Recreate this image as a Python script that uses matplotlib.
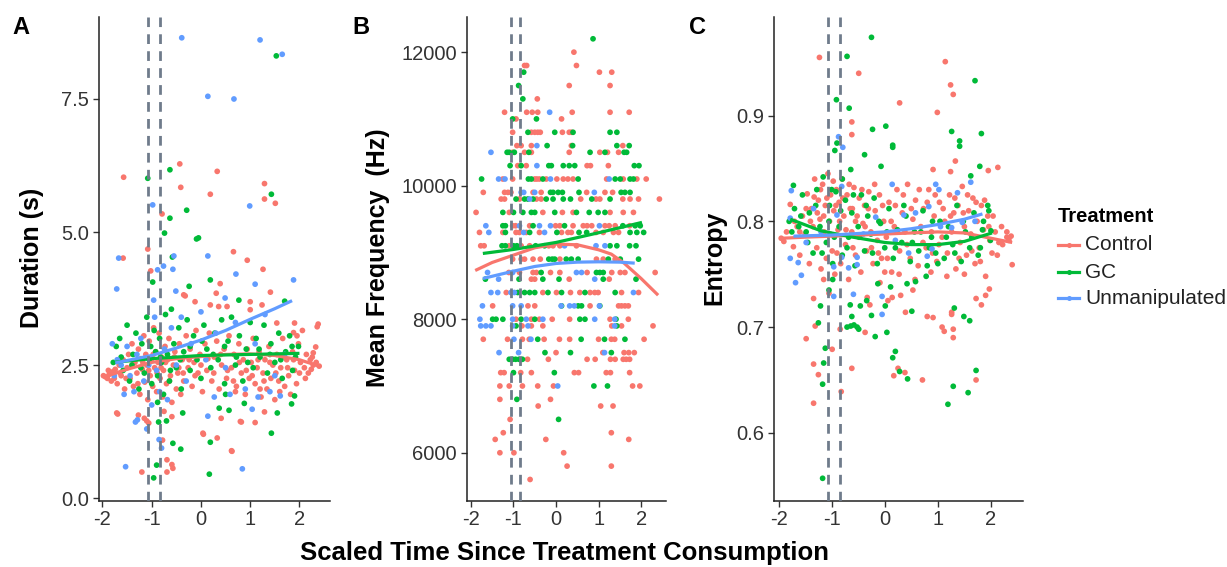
import matplotlib
matplotlib.use("Agg")
import matplotlib.pyplot as plt
from matplotlib.lines import Line2D

plt.rcParams['font.family'] = ['Liberation Sans', 'DejaVu Sans']

groups = ["Control", "GC", "Unmanipulated"]
colors = ["#F8766D", "#00BA38", "#619CFF"]
treat_lines = [-1.07, -0.84]

# ---------------- Panel A : Duration (s) ----------------
A_ctrl = [
    (-0.43,6.28),(-1.57,6.03),(0.33,6.14),(-0.41,5.84),(0.19,5.71),(1.29,5.91),(1.29,5.62),(1.51,5.54),
    (-0.79,5.34),(-1.08,4.68),(0.66,4.63),(-1.58,4.51),(0.94,4.47),(-1.02,4.27),(1.26,4.30),(0.39,4.03),
    (-0.35,3.82),(-0.32,3.80),(0.31,3.85),(1.41,3.87),(-0.12,3.69),(0.19,3.63),(0.36,3.60),(0.53,3.60),
    (1.00,3.69),(1.00,3.54),(1.24,3.63),(2.38,3.27),(2.36,3.22),(2.33,2.84),(2.28,2.73),(2.24,2.42),
    (1.54,3.29),(1.90,3.29),(1.88,3.11),(1.95,3.05),
    (-1.69,1.58),(-1.71,1.60),(-1.27,1.56),(-1.20,0.49),(-0.69,0.49),(-0.57,0.56),(-0.59,0.63),(-0.69,0.72),
    (-0.78,1.09),(0.63,0.88),(0.62,0.89),(0.04,1.22),(0.05,1.20),(0.33,1.13),(0.82,1.43),(0.80,1.44),
    (1.10,1.42),(1.29,1.62),(0.41,1.50),(-1.06,1.41),(-0.75,1.63),(-0.59,1.53),(-1.15,1.50),(-1.10,1.45),
    (-1.98,2.30),(-1.94,2.28),(-1.90,2.25),(-1.86,2.33),(-1.82,2.20),(-1.78,2.38),(-1.74,2.42),(-1.70,2.15),
    (-1.66,2.50),(-1.62,2.30),(-1.58,2.60),(-1.55,2.05),(-1.50,2.45),(-1.47,2.70),(-1.44,2.25),(-1.40,2.90),
    (-1.37,2.10),(-1.34,2.55),(-1.30,2.35),(-1.27,2.80),(-1.24,1.95),(-1.22,2.62),(-1.19,2.42),(-1.16,3.05),
    (-1.14,2.18),(-1.12,2.70),(-1.10,2.50),(-1.08,1.85),(-1.05,2.95),(-1.03,2.30),(-1.01,2.60),(-0.98,2.10),
    (-0.96,3.20),(-0.94,2.45),(-0.92,2.75),(-0.90,2.00),(-0.87,2.55),(-0.85,3.10),(-0.83,2.25),(-0.80,2.65),
    (-0.78,1.90),(-0.76,2.40),(-0.73,2.85),(-0.70,2.15),(-0.68,2.60),(-0.65,3.00),(-0.62,2.30),(-0.59,1.80),
    (-0.56,2.50),(-0.53,2.75),(-0.50,2.05),(-0.47,2.35),(-0.44,2.90),(-0.41,1.95),(-0.38,2.60),(-0.35,2.20),
    (-0.30,3.05),(-0.26,2.45),(-0.22,2.80),(-0.18,2.10),(-0.14,2.55),(-0.10,3.15),(-0.06,2.35),(-0.02,2.70),
    (0.03,2.00),(0.08,2.90),(0.12,2.40),(0.17,3.10),(0.22,2.20),(0.27,2.65),(0.32,2.95),(0.37,2.05),
    (0.42,2.50),(0.47,2.80),(0.52,2.25),(0.57,3.05),(0.62,2.45),(0.67,2.70),(0.72,2.10),(0.77,2.90),
    (0.82,2.35),(0.86,2.60),(0.90,1.95),(0.94,2.80),(0.98,2.25),(1.02,2.55),(1.06,3.00),(1.10,2.15),
    (1.14,2.45),(1.18,2.75),(1.22,1.90),(1.26,2.35),(1.30,2.60),(1.34,2.05),(1.38,2.85),(1.42,2.25),
    (1.46,2.50),(1.50,1.85),(1.54,2.70),(1.58,2.20),(1.62,2.45),(1.66,3.00),(1.70,2.10),(1.74,2.60),
    (1.78,2.30),(1.82,1.95),(1.86,2.75),(1.90,2.40),(1.94,2.15),(1.98,2.90),(2.02,2.55),(2.06,3.15),
    (2.10,2.45),(2.14,2.70),(2.18,2.35),(2.22,2.60),(2.28,2.50),(2.34,2.55),(2.40,2.48),
    (-1.88,2.40),(-1.76,2.25),(-1.64,2.35),(-1.52,2.25),(-1.40,2.50),(-1.28,2.15),(-1.18,2.55),(-1.06,2.40),
    (-0.97,2.70),(-0.89,2.35),(-0.81,2.45),(-0.72,2.55),(-0.64,2.20),(-0.54,2.65),(-0.45,2.45),(-0.36,2.35),
    (-0.24,2.60),(-0.12,2.30),(0.00,2.50),(0.14,2.62),(0.26,2.35),(0.40,2.70),(0.54,2.40),(0.66,2.20),
    (0.78,2.55),(0.92,2.40),(1.04,2.30),(1.16,2.60),(1.28,2.20),(1.40,2.55),(1.52,2.35),(1.64,2.65),
    (1.76,2.45),(1.88,2.60),(2.00,2.35),(2.12,2.25),(2.26,2.65),(1.20,2.05),(1.60,2.00),(0.70,2.00),
]
A_gc = [
    (-1.08,6.01),(-0.63,6.17),(1.43,5.71),(-0.29,5.41),(-0.63,5.26),(-0.74,4.98),(-0.09,4.87),(-0.05,4.89),
    (-0.58,4.53),(1.53,8.31),(-0.24,3.98),(0.19,4.10),(-0.98,4.06),(0.77,3.72),(1.70,3.70),
    (-0.96,0.38),(-0.90,0.62),(-0.57,1.03),(-0.41,0.92),(0.17,0.45),(0.19,1.05),(1.43,1.22),(1.55,1.60),
    (0.57,1.65),(0.37,1.69),(-0.37,1.60),(-0.86,1.43),(0.88,1.78),(1.84,1.77),(1.90,1.92),(-0.88,1.80),
    (-0.70,1.45),(0.50,1.95),
    (-1.78,2.55),(-1.72,2.85),(-1.65,3.00),(-1.58,2.40),(-1.50,3.25),(-1.45,2.20),(-1.38,2.70),(-1.32,3.10),
    (-1.26,2.05),(-1.20,2.90),(-1.15,2.35),(-1.10,3.40),(-1.05,2.60),(-1.00,2.15),(-0.95,3.15),(-0.92,2.75),
    (-0.88,2.30),(-0.84,3.00),(-0.80,2.55),(-0.76,1.95),(-0.72,3.45),(-0.68,2.70),(-0.64,2.20),(-0.60,3.55),
    (-0.55,2.90),(-0.50,2.45),(-0.45,3.20),(-0.40,2.05),(-0.35,2.75),(-0.28,3.35),(-0.22,2.40),(-0.15,3.05),
    (-0.08,2.60),(0.00,2.25),(0.06,3.25),(0.12,2.80),(0.20,2.45),(0.28,3.10),(0.35,2.60),(0.42,3.35),
    (0.48,2.15),(0.55,2.95),(0.62,3.40),(0.70,2.50),(0.78,3.05),(0.85,2.20),(0.92,2.80),(1.00,3.30),
    (1.06,2.45),(1.12,3.00),(1.20,2.65),(1.28,3.25),(1.35,2.35),(1.42,2.90),(1.50,2.55),(1.58,3.10),
    (1.65,2.25),(1.72,2.75),(1.80,3.05),(1.86,2.40),(1.92,2.65),(1.98,2.85),
    (-1.62,2.65),(-1.40,2.50),(-1.22,2.45),(-1.02,2.85),(-0.82,2.65),(-0.62,2.40),(-0.42,2.60),(-0.22,2.85),
    (0.02,2.95),(0.25,2.70),(0.48,2.85),(0.72,2.65),(0.95,2.55),(1.18,2.80),(1.40,2.70),(1.62,2.60),(1.85,2.85),
]
A_un = [
    (-0.39,8.65),(1.20,8.61),(1.65,8.34),(0.14,7.55),(0.67,7.50),(-0.98,5.51),(0.99,5.49),(-1.67,4.51),
    (0.14,4.55),(-0.55,4.55),(-0.88,4.29),(-0.76,4.36),(-0.57,4.30),(-1.71,3.93),(0.71,4.21),(1.10,4.02),
    (1.88,4.10),(-0.51,3.89),(0.49,3.76),(-0.96,3.72),
    (-1.33,1.43),(-1.53,0.59),(-0.80,0.94),(0.84,0.55),(0.14,1.54),(0.27,1.90),(0.59,1.95),(1.04,1.67),
    (-1.29,1.47),(1.61,1.92),(1.16,1.90),(-1.10,1.30),(-0.85,1.10),
    (-1.80,2.90),(-1.76,2.30),(-1.70,2.60),(-1.62,2.50),(-1.56,1.95),(-1.50,2.85),(-1.44,2.30),(-1.36,2.00),
    (-1.30,2.70),(-1.22,3.00),(-1.16,2.20),(-1.06,2.50),(-1.00,1.75),(-0.94,3.40),(-0.90,2.40),(-0.84,2.00),
    (-0.74,2.80),(-0.68,1.85),(-0.60,3.20),(-0.50,2.50),(-0.40,3.40),(-0.30,2.20),(-0.20,2.90),(0.00,3.50),
    (0.10,2.60),(0.30,3.10),(0.50,2.45),(0.70,3.30),(0.90,2.05),(1.10,2.90),(1.30,3.45),(1.50,2.30),
    (1.70,2.70),(1.40,2.00),
]
A_fit_ctrl_x = [-1.95, -1.5, -1.0, -0.5, 0.0, 0.5, 1.0, 1.5, 2.0, 2.4]
A_fit_ctrl_y = [2.28, 2.42, 2.55, 2.62, 2.66, 2.70, 2.71, 2.68, 2.60, 2.48]
A_fit_gc_x = [-1.78, -1.0, 0.0, 1.0, 2.0]
A_fit_gc_y = [2.55, 2.62, 2.68, 2.70, 2.72]
A_fit_un_x = [-1.74, -1.0, -0.5, 0.0, 0.5, 1.0, 1.5, 1.85]
A_fit_un_y = [2.54, 2.68, 2.82, 2.97, 3.15, 3.36, 3.56, 3.71]

# ---------------- Panel B : Mean Frequency (Hz) ----------------
B_ctrl = [
    (0.42,12000),(-0.74,11800),(-0.69,11800),(0.48,11800),(1.02,11700),(1.31,11700),(0.31,11500),(1.27,11500),
    (-0.44,11300),(-1.21,11100),(-0.69,11100),(-0.56,11100),(-0.43,11100),(0.38,11100),(1.27,11100),(1.72,11100),
    (-0.94,11000),(0.13,11000),
    (-1.02,10800),(-0.58,10800),(-0.50,10800),(-0.43,10800),(-0.37,10800),(0.15,10800),(0.31,10800),(0.36,10800),
    (-0.92,10600),(-0.82,10600),(-0.58,10600),(0.36,10600),(1.57,10600),
    (-1.02,10500),(-0.74,10500),(-0.58,10500),(0.31,10500),(1.03,10500),(1.21,10500),(1.47,10500),
    (-0.90,10300),(-0.70,10300),(0.73,10300),(0.81,10300),(1.23,10300),
    (-1.25,10100),(-1.02,10100),(-0.50,10100),(-0.45,10100),(-0.39,10100),(-0.23,10100),(0.02,10100),(0.17,10100),
    (0.28,10100),(0.40,10100),(1.19,10100),(1.58,10100),(1.90,10100),(2.12,10100),
    (-1.71,9900),(-1.21,9900),(-1.13,9900),(-1.06,9900),(-0.54,9900),(-0.35,9900),(0.72,9900),(1.15,9900),(1.33,9900),
    (-1.29,9800),(-1.21,9800),(-0.86,9800),(-0.46,9800),(-0.35,9800),(0.58,9800),(0.94,9800),(1.03,9800),
    (1.57,9800),(1.74,9800),(1.94,9800),(2.43,9800),
    (-1.88,9600),(-1.10,9600),(-0.31,9600),(0.15,9600),(0.40,9600),(1.27,9600),(1.58,9600),(1.82,9600),
    (-1.02,9400),(-0.95,9400),(-0.62,9400),(-0.01,9400),(0.09,9400),(0.40,9400),(0.64,9400),(0.73,9400),
    (0.84,9400),(1.15,9400),(1.25,9400),(1.39,9400),(1.73,9400),
    (-1.80,9300),(-1.25,9300),(-0.94,9300),(-0.86,9300),(-0.70,9300),(-0.39,9300),(0.13,9300),(0.28,9300),
    (0.36,9300),(0.94,9300),(1.11,9300),(1.35,9300),(1.47,9300),
    (-1.77,9100),(-1.69,9100),(-1.10,9100),(-0.82,9100),(-0.62,9100),(-0.17,9100),(-0.07,9100),(0.09,9100),(0.48,9100),
    (-1.02,8900),(-0.82,8900),(-0.74,8900),(-0.54,8900),(-0.37,8900),(0.09,8900),(0.95,8900),(1.11,8900),(1.39,8900),
    (-1.11,8700),(-0.86,8700),(-0.54,8700),(-0.46,8700),(-0.13,8700),(0.09,8700),(0.73,8700),(1.31,8700),
    (1.51,8700),(1.62,8700),(2.33,8700),
    (-0.58,8600),(-0.50,8600),(0.31,8600),(1.25,8600),
    (-1.17,8400),(-0.31,8400),(0.01,8400),(0.34,8400),(0.56,8400),(0.80,8400),(0.91,8400),(0.99,8400),(1.54,8400),(1.94,8400),
    (-1.49,8200),(-0.66,8200),(-0.50,8200),(0.80,8200),(1.47,8200),(1.54,8200),(1.62,8200),(1.70,8200),
    (-0.94,8000),(-0.58,8000),(-0.39,8000),(-0.09,8000),(0.32,8000),(1.27,8000),(1.70,8000),
    (-0.80,7900),(-0.58,7900),(-0.31,7900),(1.31,7900),(1.54,7900),(2.28,7900),
    (-1.71,7700),(-1.14,7700),(-0.79,7700),(-0.63,7700),(-0.28,7700),(0.08,7700),(0.32,7700),(1.00,7700),
    (1.30,7700),(1.38,7700),(2.07,7700),
    (0.00,7500),(1.10,7500),(1.60,7500),(1.71,7500),(1.84,7500),
    (-0.67,7400),(-0.18,7400),(0.73,7400),(0.92,7400),(1.28,7400),(1.39,7400),(1.58,7400),(1.65,7400),(1.73,7400),
    (-1.30,7200),(-1.22,7200),(-0.83,7200),(-0.58,7200),(0.43,7200),(0.53,7200),(1.18,7200),(1.28,7200),(1.73,7200),
    (-1.32,7000),(-1.10,7000),(-0.79,7000),(-0.43,7000),(-0.06,7000),(1.80,7000),(1.97,7000),
    (-1.32,6800),(-0.13,6800),(-0.42,6700),(1.05,6700),(1.34,6700),(-1.08,6500),(-1.24,6300),(1.30,6300),
    (-1.43,6200),(-0.24,6200),(1.71,6200),(-1.32,6000),(-0.99,6000),(0.18,6000),(0.26,5800),(1.30,5800),
    (-0.61,5600),
]
B_gc = [
    (0.87,12200),(-0.76,11700),(-0.88,11500),(-0.78,11300),(-1.02,11000),(-0.46,11000),
    (-0.66,10800),(-0.03,10800),(0.40,10800),(1.27,10800),(1.43,10800),
    (-0.21,10600),(0.39,10600),(1.43,10600),(1.72,10600),
    (-1.15,10500),(-1.10,10500),(-0.98,10500),(-0.64,10500),(0.80,10500),(1.15,10500),(1.60,10500),(1.66,10500),
    (-1.08,10300),(-0.82,10300),(-0.17,10300),(-0.11,10300),(0.17,10300),(0.31,10300),(0.44,10300),(1.84,10300),(1.95,10300),
    (-1.75,10100),(-0.65,10100),(-0.58,10100),(-0.31,10100),(0.52,10100),(1.39,10100),(1.51,10100),(1.74,10100),(1.82,10100),
    (-0.13,9900),(-0.07,9900),(0.05,9900),(0.15,9900),(0.54,9900),(1.53,9900),(1.62,9900),(1.74,9900),
    (-0.94,9800),(-0.74,9800),(-0.66,9800),(-0.54,9800),(-0.23,9800),(-0.07,9800),(0.17,9800),(0.34,9800),(0.84,9800),(1.27,9800),
    (-1.25,9600),(-1.00,9600),(-0.78,9600),(-0.58,9600),(-0.50,9600),(-0.03,9600),(0.48,9600),(0.78,9600),(0.99,9600),(1.15,9600),
    (-1.25,9400),(-1.19,9400),(-0.54,9400),(0.20,9400),(1.57,9400),(1.86,9400),(1.98,9400),
    (-1.19,9300),(-0.62,9300),(0.02,9300),(0.54,9300),(0.72,9300),(1.74,9300),(1.90,9300),(2.06,9300),
    (-1.27,9100),(-1.19,9100),(-1.00,9100),(-0.92,9100),(-0.48,9100),(-0.27,9100),(1.27,9100),(1.43,9100),(1.73,9100),(1.88,9100),
    (-0.17,8900),(-0.09,8900),(-0.03,8900),(0.24,8900),(0.36,8900),(0.52,8900),(1.23,8900),(1.51,8900),(1.94,8900),
    (-0.35,8700),(0.95,8700),(1.03,8700),(1.11,8700),
    (-1.66,8600),(-0.87,8600),(-0.31,8600),(0.07,8600),(1.11,8600),(1.88,8600),
    (-0.90,8400),(-0.74,8400),(-0.62,8400),(-0.50,8400),(-0.19,8400),(0.13,8400),(0.68,8400),(1.39,8400),
    (0.13,8200),(0.52,8200),(0.60,8200),(1.03,8200),
    (-1.49,8000),(-1.41,8000),(-1.25,8000),(-0.82,8000),(-0.50,8000),(0.56,8000),(0.68,8000),(1.41,8000),
    (-0.94,7900),(1.43,7900),(-0.43,7700),(0.59,7700),(1.14,7700),(1.62,7700),
    (-0.26,7500),(0.34,7500),(1.30,7500),
    (-1.10,7400),(-1.02,7400),(-0.95,7400),(-0.87,7400),(-0.79,7400),
    (-1.00,7200),(-0.04,7200),(0.89,7000),(1.21,7000),(-0.92,6800),(0.06,6500),
]
B_un = [
    (-0.15,11100),(-0.45,10600),(-1.53,10500),(-0.45,10300),
    (-1.35,10100),(-1.20,10100),(-0.13,10100),(1.25,10100),
    (-0.82,9900),(-0.76,9900),(-0.50,9900),(0.90,9900),(-0.62,9800),
    (-1.65,9400),(-0.86,9400),(-0.39,9400),(-0.13,9400),(1.02,9400),
    (-1.58,9300),(-0.76,9300),(-0.27,9300),(0.20,9100),(0.94,9100),(1.15,9100),
    (-1.61,8700),(-1.02,8700),(0.48,8700),(0.60,8700),(-1.35,8600),(0.91,8600),
    (-1.53,8400),(-1.37,8400),(-1.06,8400),(-0.98,8400),(1.82,8400),
    (-1.73,8200),(-1.02,8200),(-0.82,8200),(0.32,8200),(0.12,8200),(0.43,8200),(1.02,8200),
    (-1.79,8000),(-1.02,8000),(-0.70,8000),(-0.31,8000),(0.91,8000),(1.38,8000),
    (-1.77,7900),(-1.65,7900),(-1.53,7900),(-1.02,7900),(-0.66,7900),(1.38,7900),
    (-0.99,7700),(-0.59,7700),(-1.34,7500),(-0.88,7500),(1.14,7500),(0.04,7000),
]
B_fit_ctrl_x = [-1.9, -1.5, -1.0, -0.5, 0.0, 0.5, 1.0, 1.3, 1.6, 2.0, 2.4]
B_fit_ctrl_y = [8730, 8850, 8960, 9070, 9125, 9115, 9040, 8975, 8840, 8610, 8360]
B_fit_gc_x = [-1.72, -1.0, 0.0, 1.0, 2.02]
B_fit_gc_y = [8985, 9045, 9150, 9295, 9450]
B_fit_un_x = [-1.72, -1.0, -0.5, 0.0, 0.5, 1.0, 1.5, 1.85]
B_fit_un_y = [8610, 8720, 8790, 8835, 8855, 8860, 8855, 8840]

# ---------------- Panel C : Entropy ----------------
C_ctrl = [
    (-1.23,0.955),(1.14,0.951),(-0.49,0.940),(1.24,0.929),(1.29,0.920),(0.28,0.912),(0.99,0.903),(-0.62,0.894),
    (-0.62,0.882),(0.91,0.849),(1.33,0.857),(1.24,0.847),(1.95,0.848),(2.13,0.851),(2.40,0.759),(2.34,0.782),(2.30,0.785),
    (-1.34,0.727),(-1.31,0.701),(-1.48,0.689),(-0.99,0.679),(-1.34,0.665),(-1.25,0.655),(-1.34,0.628),(-0.82,0.639),
    (-0.84,0.698),(-0.62,0.661),(-0.37,0.695),(-0.28,0.721),(0.06,0.725),(0.14,0.728),(0.17,0.654),(0.25,0.661),
    (0.38,0.657),(0.39,0.714),(0.71,0.650),(0.80,0.710),(0.91,0.709),(1.08,0.700),(1.12,0.696),(1.29,0.698),
    (1.29,0.690),(1.26,0.712),(1.26,0.714),(1.72,0.650),(1.72,0.727),(1.82,0.721),(1.90,0.730),(1.97,0.736),
    (0.53,0.735),(0.30,0.730),(-0.09,0.742),(-0.33,0.728),(-1.05,0.732),(-1.15,0.745),
    (-1.95,0.784),(-1.90,0.781),(-1.85,0.790),(-1.78,0.816),(-1.72,0.776),(-1.65,0.795),(-1.60,0.768),(-1.55,0.805),
    (-1.50,0.788),(-1.46,0.826),(-1.42,0.760),(-1.38,0.812),(-1.35,0.795),(-1.32,0.840),(-1.28,0.775),(-1.25,0.820),
    (-1.22,0.802),(-1.20,0.755),(-1.17,0.835),(-1.14,0.790),(-1.12,0.815),(-1.10,0.765),(-1.07,0.845),(-1.04,0.800),
    (-1.02,0.825),(-0.99,0.772),(-0.96,0.810),(-0.94,0.750),(-0.91,0.830),(-0.88,0.792),(-0.86,0.818),(-0.83,0.760),
    (-0.80,0.840),(-0.77,0.805),(-0.74,0.778),(-0.71,0.825),(-0.68,0.745),(-0.65,0.812),(-0.62,0.790),(-0.58,0.832),
    (-0.55,0.768),(-0.52,0.805),(-0.48,0.822),(-0.45,0.752),(-0.41,0.798),(-0.38,0.815),(-0.34,0.772),(-0.30,0.828),
    (-0.26,0.790),(-0.22,0.760),(-0.18,0.810),(-0.14,0.782),(-0.10,0.825),(-0.06,0.765),(-0.02,0.800),(0.03,0.785),
    (0.08,0.818),(0.13,0.752),(0.18,0.795),(0.23,0.830),(0.28,0.772),(0.33,0.808),(0.38,0.790),(0.43,0.835),
    (0.48,0.765),(0.53,0.802),(0.58,0.820),(0.63,0.758),(0.68,0.795),(0.73,0.812),(0.78,0.775),(0.83,0.830),
    (0.88,0.790),(0.93,0.805),(0.98,0.762),(1.03,0.818),(1.08,0.785),(1.13,0.800),(1.18,0.770),(1.22,0.825),
    (1.26,0.790),(1.30,0.808),(1.34,0.755),(1.38,0.815),(1.42,0.780),(1.46,0.833),(1.50,0.795),(1.54,0.768),
    (1.58,0.810),(1.62,0.788),(1.66,0.822),(1.70,0.760),(1.74,0.800),(1.78,0.775),(1.82,0.815),(1.86,0.792),
    (1.90,0.748),(1.94,0.805),(1.98,0.782),(2.02,0.770),(2.08,0.790),(2.15,0.780),(2.22,0.778),(2.30,0.790),(2.38,0.786),
    (-1.48,0.812),(-1.40,0.800),(-1.33,0.823),(-1.27,0.808),(-1.21,0.830),(-1.15,0.805),(-1.09,0.822),(-1.03,0.788),
    (-0.97,0.838),(-0.92,0.815),(-0.85,0.800),(-0.79,0.822),(-0.73,0.792),(-0.67,0.835),(-0.61,0.812),(-0.55,0.800),
    (-0.49,0.785),(-0.43,0.830),(-0.37,0.795),(-0.31,0.812),(-0.25,0.775),(-0.19,0.835),(-0.12,0.770),(-0.04,0.815),
    (0.05,0.765),(0.12,0.800),(0.20,0.815),(0.27,0.750),(0.35,0.825),(0.42,0.778),(0.50,0.812),(0.57,0.745),
    (0.65,0.830),(0.72,0.780),(0.80,0.818),(0.87,0.752),(0.95,0.825),(1.02,0.778),(1.10,0.812),(1.17,0.748),
    (1.24,0.805),(1.32,0.822),(1.40,0.765),(1.48,0.808),(1.56,0.825),(1.64,0.772),(1.72,0.818),(1.80,0.762),
    (1.88,0.820),(1.96,0.795),(2.04,0.805),(2.12,0.768),(2.20,0.795),(-1.60,0.790),(-1.70,0.800),(-0.90,0.770),
    (-0.60,0.775),(0.00,0.752),(0.90,0.770),(1.50,0.750),
]
C_gc = [
    (-0.25,0.974),(-0.71,0.956),(1.70,0.933),(-0.91,0.915),(-0.67,0.907),(-0.23,0.887),(0.02,0.890),(1.26,0.885),
    (1.82,0.883),(1.41,0.876),(1.41,0.871),(0.15,0.872),(0.15,0.870),(-0.90,0.874),(-0.94,0.867),(-0.38,0.863),
    (-0.07,0.852),(-0.64,0.849),(1.79,0.852),(1.62,0.843),(-1.72,0.834),(1.99,0.782),(2.00,0.791),(1.96,0.810),(1.86,0.800),
    (-1.21,0.720),(-1.25,0.704),(-1.12,0.680),(-1.15,0.666),(-1.17,0.646),(-1.17,0.557),(-0.71,0.700),(-0.64,0.701),
    (-0.58,0.702),(-0.52,0.700),(-0.49,0.698),(-0.62,0.710),(-0.65,0.721),(-0.46,0.720),(-0.18,0.691),(-0.25,0.711),
    (0.04,0.695),(0.01,0.720),(0.15,0.671),(0.20,0.677),(0.28,0.658),(0.43,0.651),(0.51,0.715),(1.31,0.718),
    (1.49,0.710),(1.60,0.706),(1.29,0.644),(1.19,0.627),(1.57,0.638),(1.72,0.659),(0.78,0.748),(0.58,0.743),
    (0.42,0.741),(0.11,0.738),(-0.13,0.741),(-0.34,0.725),(-0.98,0.745),(-1.05,0.735),
    (-1.80,0.800),(-1.70,0.812),(-1.62,0.795),(-1.55,0.825),(-1.48,0.790),(-1.42,0.808),(-1.35,0.770),(-1.28,0.830),
    (-1.22,0.795),(-1.16,0.842),(-1.10,0.780),(-1.04,0.815),(-0.98,0.760),(-0.92,0.828),(-0.86,0.795),(-0.80,0.768),
    (-0.74,0.820),(-0.68,0.785),(-0.62,0.808),(-0.56,0.758),(-0.50,0.795),(-0.44,0.825),(-0.38,0.772),(-0.32,0.805),
    (-0.26,0.788),(-0.20,0.822),(-0.14,0.760),(-0.08,0.798),(0.00,0.775),(0.08,0.812),(0.16,0.765),(0.24,0.792),
    (0.32,0.780),(0.40,0.805),(0.48,0.762),(0.56,0.790),(0.64,0.772),(0.72,0.810),(0.80,0.758),(0.88,0.785),
    (0.96,0.770),(1.04,0.800),(1.12,0.765),(1.20,0.795),(1.28,0.778),(1.36,0.815),(1.44,0.762),(1.52,0.790),
    (1.60,0.775),(1.68,0.808),(1.76,0.768),(1.84,0.792),
    (-1.75,0.790),(-1.58,0.805),(-1.45,0.780),(-1.30,0.815),(-1.18,0.770),(-1.05,0.800),(-0.95,0.785),(-0.83,0.810),
    (-0.71,0.775),(-0.59,0.825),(-0.47,0.785),(-0.35,0.815),(-0.23,0.770),(-0.11,0.800),(0.04,0.790),(0.20,0.775),
    (0.36,0.815),(0.52,0.780),(0.68,0.790),(0.84,0.775),(1.00,0.760),(1.16,0.785),(1.32,0.770),(1.48,0.800),
    (1.64,0.785),(1.80,0.775),(1.94,0.815),(-1.00,0.830),(-0.80,0.840),(0.90,0.800),
]
C_un = [
    (-0.87,0.880),(-0.79,0.870),(-1.76,0.829),(-1.78,0.803),(-1.78,0.765),(-1.63,0.761),(-1.57,0.749),(-1.68,0.742),
    (1.62,0.837),(1.37,0.827),(0.96,0.835),(1.02,0.830),(0.14,0.835),(1.46,0.799),(-0.05,0.729),(-0.59,0.731),
    (-0.96,0.729),(-0.52,0.759),(-0.52,0.766),(-0.68,0.756),(-0.81,0.766),(-0.96,0.757),(-0.90,0.806),(-0.17,0.804),
    (0.45,0.770),(0.36,0.806),(0.58,0.808),(0.83,0.814),(1.05,0.795),(1.26,0.794),(0.80,0.767),(0.89,0.774),
    (-1.48,0.780),(-1.34,0.812),(-0.81,0.833),(-1.20,0.790),(-0.40,0.788),(0.20,0.782),(1.70,0.800),(-0.05,0.712),
]
C_fit_ctrl_x = [-1.94, -1.5, -1.0, -0.5, 0.0, 0.5, 1.0, 1.5, 2.0, 2.4]
C_fit_ctrl_y = [0.784, 0.785, 0.786, 0.787, 0.788, 0.789, 0.790, 0.789, 0.784, 0.780]
C_fit_gc_x = [-1.78, -1.2, -0.6, 0.0, 0.5, 1.0, 1.5, 2.02]
C_fit_gc_y = [0.802, 0.791, 0.785, 0.780, 0.778, 0.778, 0.781, 0.789]
C_fit_un_x = [-1.72, -1.0, 0.0, 0.5, 1.0, 1.5, 1.84]
C_fit_un_y = [0.786, 0.787, 0.790, 0.793, 0.797, 0.802, 0.807]

panels = [
    dict(pts=[A_ctrl, A_gc, A_un],
         fits=[(A_fit_ctrl_x, A_fit_ctrl_y), (A_fit_gc_x, A_fit_gc_y), (A_fit_un_x, A_fit_un_y)],
         rect=[99/1227, 1-500.5/567, 230.5/1227, 484/567], xlim=(-2.07, 2.61), ylim=(-0.045, 9.05),
         yticks=[0, 2.5, 5.0, 7.5], yticklabels=["0.0", "2.5", "5.0", "7.5"],
         ylabel="Duration (s)", ylab_x=32, letter="A", letter_x=21),
    dict(pts=[B_ctrl, B_gc, B_un],
         fits=[(B_fit_ctrl_x, B_fit_ctrl_y), (B_fit_gc_x, B_fit_gc_y), (B_fit_un_x, B_fit_un_y)],
         rect=[466.7/1227, 1-500.5/567, 199.5/1227, 484/567], xlim=(-2.10, 2.59), ylim=(5285, 12534),
         yticks=[6000, 8000, 10000, 12000], yticklabels=["6000", "8000", "10000", "12000"],
         ylabel="Mean Frequency  (Hz)", ylab_x=378, letter="B", letter_x=361),
    dict(pts=[C_ctrl, C_gc, C_un],
         fits=[(C_fit_ctrl_x, C_fit_ctrl_y), (C_fit_gc_x, C_fit_gc_y), (C_fit_un_x, C_fit_un_y)],
         rect=[774.3/1227, 1-500.5/567, 248.5/1227, 484/567], xlim=(-2.08, 2.60), ylim=(0.536, 0.9937),
         yticks=[0.6, 0.7, 0.8, 0.9], yticklabels=["0.6", "0.7", "0.8", "0.9"],
         ylabel="Entropy", ylab_x=714, letter="C", letter_x=697),
]

fig = plt.figure(figsize=(12.27, 5.67), dpi=100)
tick_color = "#333333"
for p in panels:
    ax = fig.add_axes(p["rect"])
    for grp, col in zip(p["pts"], colors):
        xs = [q[0] for q in grp]
        ys = [q[1] for q in grp]
        ax.scatter(xs, ys, s=17, color=col, edgecolors="none", zorder=2)
    for (fx, fy), col in zip(p["fits"], colors):
        ax.plot(fx, fy, color=col, lw=2.3, solid_capstyle="butt", zorder=3)
    for xv in treat_lines:
        ax.axvline(xv, color="#6F7B8B", lw=2.0, linestyle=(0, (3.5, 2.6)), zorder=4)
    ax.set_xlim(*p["xlim"])
    ax.set_ylim(*p["ylim"])
    ax.set_xticks([-2, -1, 0, 1, 2])
    ax.set_xticklabels(["-2", "-1", "0", "1", "2"])
    ax.set_yticks(p["yticks"])
    ax.set_yticklabels(p["yticklabels"])
    for s in ["top", "right"]:
        ax.spines[s].set_visible(False)
    for s in ["left", "bottom"]:
        ax.spines[s].set_linewidth(1.1)
        ax.spines[s].set_color("#222222")
    ax.tick_params(axis="both", length=4, width=1.0, color=tick_color, labelcolor=tick_color,
                   labelsize=14.5, pad=3)
    fig.text(p["ylab_x"]/1227, 1-258/567, p["ylabel"], rotation=90, ha="center", va="center",
             fontsize=18, fontweight="bold", color="black")
    fig.text(p["letter_x"]/1227, 1-27/567, p["letter"], ha="center", va="center",
             fontsize=17, fontweight="bold", color="black")

fig.text(565/1227, 1-553/567, "Scaled Time Since Treatment Consumption", ha="center", va="center",
         fontsize=18.5, fontweight="bold", color="black")

# legend
fig.text(1058/1227, 1-217/567, "Treatment", ha="left", va="center", fontsize=14.5,
         fontweight="bold", color="black")
leg_y = [245, 272, 298]
for lab, col, yy in zip(groups, colors, leg_y):
    yf = 1 - yy/567
    fig.add_artist(Line2D([1058/1227, 1079/1227], [yf, yf], color=col, lw=2.3,
                          transform=fig.transFigure))
    fig.add_artist(Line2D([1068.5/1227], [yf], color=col, marker="o", markersize=3.6,
                          markeredgewidth=0, transform=fig.transFigure))
    fig.text(1085/1227, yf, lab, ha="left", va="center", fontsize=15, color="#222222")

fig.savefig("out.png", dpi=100)
